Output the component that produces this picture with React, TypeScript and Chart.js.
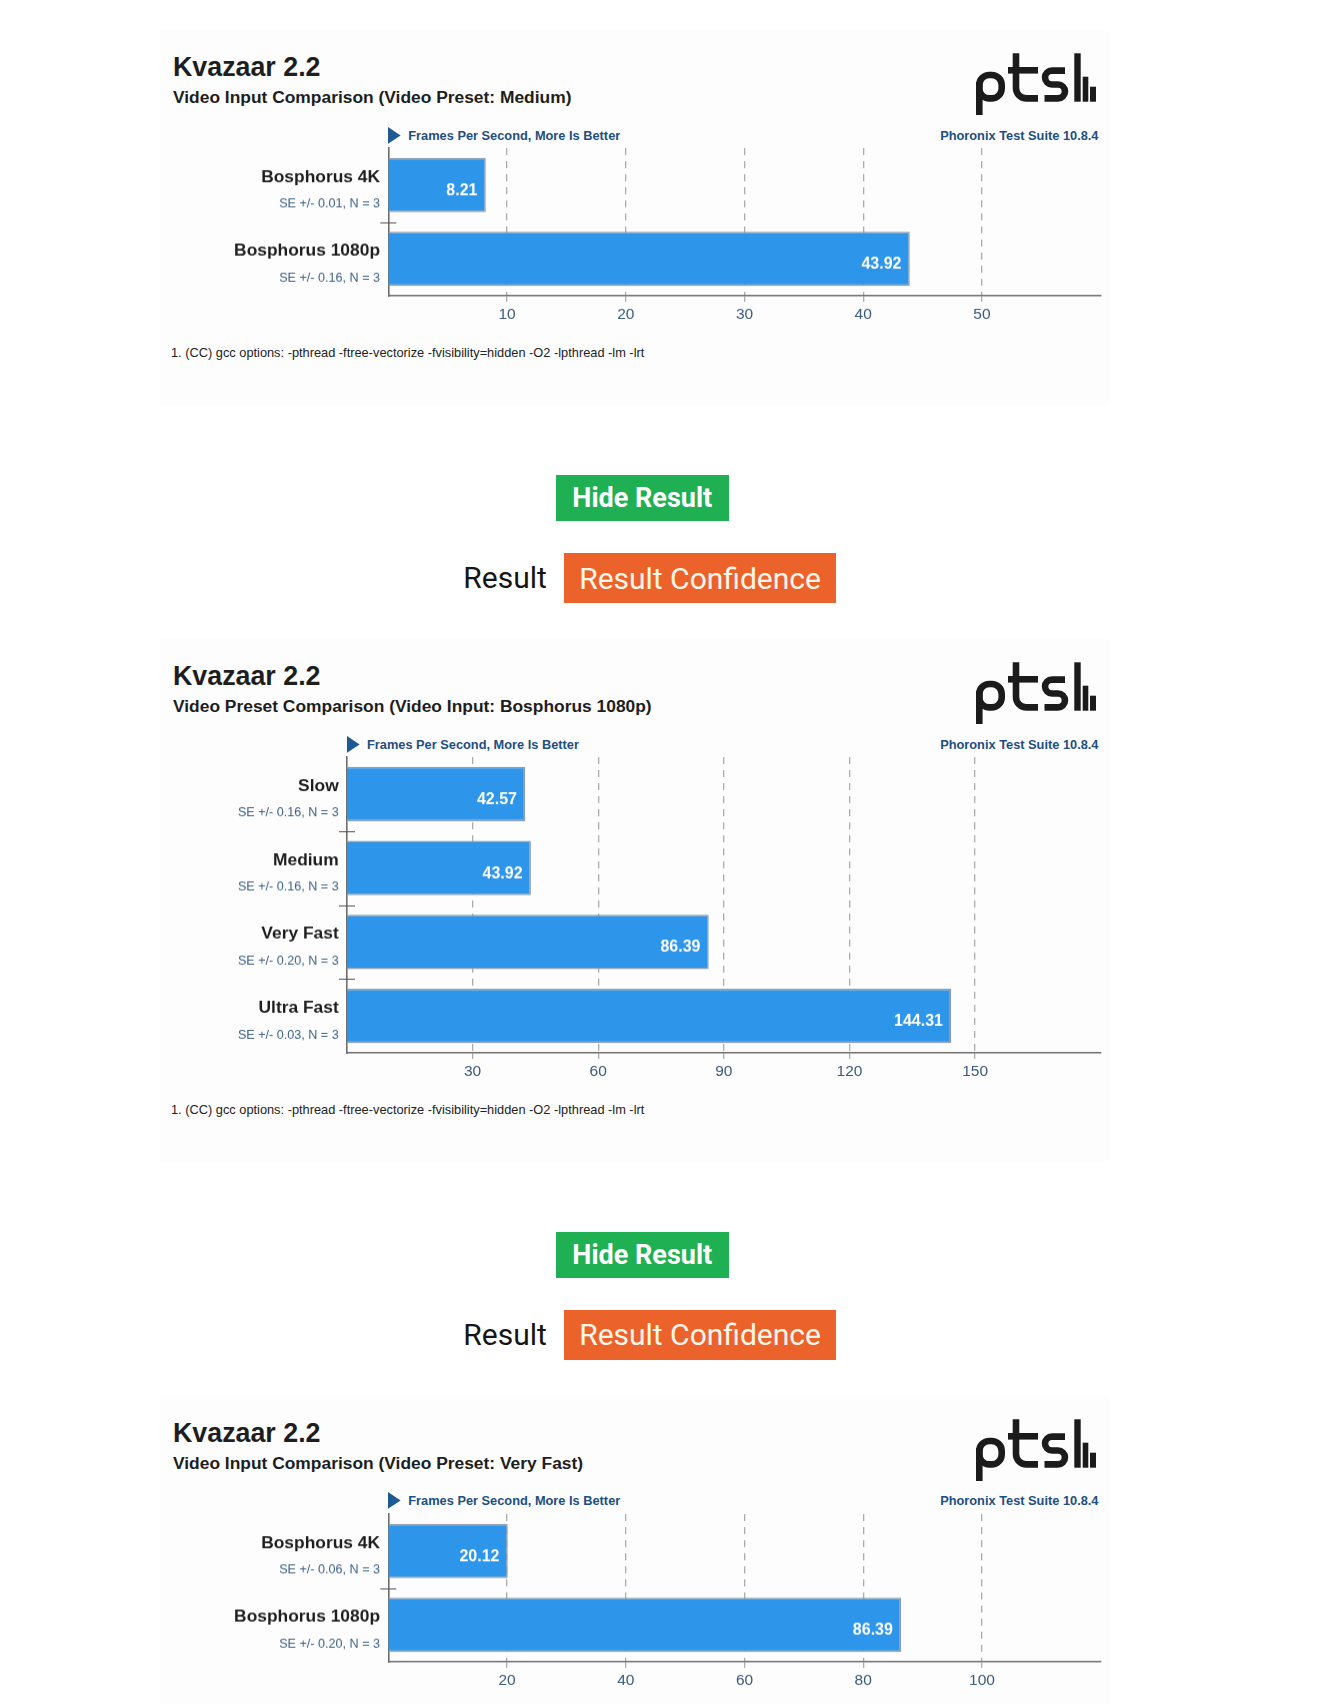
import React, { useEffect, useRef } from 'react';
import { Chart, registerables } from 'chart.js';

Chart.register(...registerables);

// ---------- data ----------
const chart1Title = 'Kvazaar 2.2';
const chart1Subtitle = 'Video Input Comparison (Video Preset: Medium)';
const chart1Categories = ['Bosphorus 4K', 'Bosphorus 1080p'];
const chart1Values = [8.21, 43.92];
const chart1SE = ['SE +/- 0.01, N = 3', 'SE +/- 0.16, N = 3'];
const chart1Max = 60;
const chart1Step = 10;

const chart2Title = 'Kvazaar 2.2';
const chart2Subtitle = 'Video Preset Comparison (Video Input: Bosphorus 1080p)';
const chart2Categories = ['Slow', 'Medium', 'Very Fast', 'Ultra Fast'];
const chart2Values = [42.57, 43.92, 86.39, 144.31];
const chart2SE = ['SE +/- 0.16, N = 3', 'SE +/- 0.16, N = 3', 'SE +/- 0.20, N = 3', 'SE +/- 0.03, N = 3'];
const chart2Max = 180;
const chart2Step = 30;

const chart3Title = 'Kvazaar 2.2';
const chart3Subtitle = 'Video Input Comparison (Video Preset: Very Fast)';
const chart3Categories = ['Bosphorus 4K', 'Bosphorus 1080p'];
const chart3Values = [20.12, 86.39];
const chart3SE = ['SE +/- 0.06, N = 3', 'SE +/- 0.20, N = 3'];
const chart3Max = 120;
const chart3Step = 20;

const unitLabel = 'Frames Per Second, More Is Better';
const suiteLabel = 'Phoronix Test Suite 10.8.4';
const footnote = '1. (CC) gcc options: -pthread -ftree-vectorize -fvisibility=hidden -O2 -lpthread -lm -lrt';

// ---------- layout constants ----------
const W = 1328;
const H = 1704;
const SANS = '"Liberation Sans", Arial, Helvetica, sans-serif';
const ROBOTO = 'Roboto, "Liberation Sans", Arial, sans-serif';
const CHART_TOP = 148;
const CAT = 73.9;
const AXIS_RIGHT = 1100.7;
const CANVAS_TOP = 140;
const X_AXIS_H = 40;

const TITLE_COLOR = '#1e1e1e';
const BLUE_TEXT = '#1d4f80';
const SE_COLOR = '#3d6088';
const TICK_COLOR = '#3a5a7c';
const BAR_COLOR = '#2d95ea';
const BAR_BORDER = '#8b9cae';
const AXIS_COLOR = '#6e6e6e';
const GRID_COLOR = '#acacac';

type TextProps = {
  x: number;
  baseline: number;
  size: number;
  weight?: number | string;
  color?: string;
  align?: 'left' | 'right';
  family?: string;
  children: React.ReactNode;
};

function Txt({ x, baseline, size, weight = 400, color = TITLE_COLOR, align = 'left', family = SANS, children }: TextProps) {
  const k = family === ROBOTO ? 0.8418 : 0.8465;
  const style: React.CSSProperties = {
    position: 'absolute',
    top: baseline - k * size,
    fontFamily: family,
    fontSize: size,
    fontWeight: weight as any,
    lineHeight: `${size}px`,
    color,
    whiteSpace: 'nowrap',
  };
  if (align === 'right') {
    style.right = W - x;
    style.textAlign = 'right';
  } else {
    style.left = x;
  }
  return <div style={style}>{children}</div>;
}

function Logo({ top }: { top: number }) {
  const c = '#1b1b1b';
  return (
    <svg
      width={150}
      height={85}
      viewBox="0 0 150 85"
      style={{ position: 'absolute', left: 960, top: top + 40 }}
    >
      <g fill="none" stroke={c} strokeWidth={6.6} strokeLinecap="butt">
        <rect x={19.3} y={35} width={22.4} height={23.4} rx={10} ry={10} />
        <line x1={19.3} y1={42} x2={19.3} y2={75} />
        <path d="M56,13.3 V48 A10.4,10.4 0 0 0 66.4,58.4 H78" />
        <line x1={48} y1={30.3} x2={78} y2={30.3} />
        <path d="M105,30.6 H92 A6.95,6.95 0 0 0 92,44.5 H98 A6.95,6.95 0 0 1 98,58.4 H84.5" />
      </g>
      <rect x={114.3} y={13.3} width={6.4} height={48.4} fill={c} />
      <rect x={122.7} y={36.7} width={5.6} height={25} fill={c} />
      <rect x={130} y={46.7} width={6} height={15} fill={c} />
    </svg>
  );
}

type ChartProps = {
  categories: string[];
  values: number[];
  se: string[];
  max: number;
  step: number;
  axisLeft: number;
};

function BarChart({ categories, values, se, max, step, axisLeft }: ChartProps) {
  const ref = useRef<HTMLCanvasElement>(null);
  const chartH = categories.length * CAT;
  const canvasH = CHART_TOP - CANVAS_TOP + chartH + X_AXIS_H;

  useEffect(() => {
    if (!ref.current) return;
    const labelPlugin = {
      id: 'ptsLabels',
      afterDatasetsDraw(chart: any) {
        const ctx = chart.ctx as CanvasRenderingContext2D;
        const meta = chart.getDatasetMeta(0);
        ctx.save();
        ctx.fillStyle = '#ffffff';
        ctx.font = `bold 16px ${SANS}`;
        ctx.textAlign = 'right';
        ctx.textBaseline = 'alphabetic';
        meta.data.forEach((bar: any, i: number) => {
          ctx.fillText(values[i].toFixed(2), bar.x - 8.3, bar.y + 10);
        });
        ctx.restore();
      },
      afterDraw(chart: any) {
        const ctx = chart.ctx as CanvasRenderingContext2D;
        const yScale = chart.scales.y;
        const left = chart.chartArea.left;
        ctx.save();
        ctx.textAlign = 'right';
        ctx.textBaseline = 'alphabetic';
        categories.forEach((cat, i) => {
          const y = yScale.getPixelForValue(i);
          ctx.fillStyle = TITLE_COLOR;
          ctx.font = `bold 17.4px ${SANS}`;
          ctx.fillText(cat, left - 8.3, y - 3);
          ctx.fillStyle = SE_COLOR;
          ctx.font = `12.6px ${SANS}`;
          ctx.fillText(se[i], left - 8.3, y + 22.5);
        });
        // category boundary marks crossing the vertical axis
        ctx.strokeStyle = '#505050';
        ctx.lineWidth = 1;
        for (let i = 0; i < categories.length - 1; i++) {
          const yb = Math.round((yScale.getPixelForValue(i) + yScale.getPixelForValue(i + 1)) / 2) + 0.5;
          ctx.beginPath();
          ctx.moveTo(left - 8, yb);
          ctx.lineTo(left + 8, yb);
          ctx.stroke();
        }
        ctx.restore();
      },
    };

    const chart = new Chart(ref.current, {
      type: 'bar',
      data: {
        labels: categories,
        datasets: [
          {
            data: values,
            backgroundColor: BAR_COLOR,
            borderColor: BAR_BORDER,
            borderWidth: 1.5,
            barPercentage: 0.735,
            categoryPercentage: 1,
          },
        ],
      },
      options: {
        indexAxis: 'y',
        animation: false,
        responsive: false,
        maintainAspectRatio: false,
        layout: {
          padding: { left: axisLeft, right: W - AXIS_RIGHT, top: CHART_TOP - CANVAS_TOP, bottom: 0 },
        },
        plugins: {
          legend: { display: false },
          tooltip: { enabled: false },
          title: { display: false },
        },
        scales: {
          x: {
            type: 'linear',
            min: 0,
            max,
            afterBuildTicks: (s: any) => {
              s.ticks = s.ticks.filter((t: any) => t.value > 0 && t.value < max);
            },
            afterFit: (s: any) => {
              s.height = X_AXIS_H;
            },
            ticks: {
              stepSize: step,
              color: TICK_COLOR,
              font: { family: SANS, size: 15.5 },
              padding: 3,
              maxRotation: 0,
            },
            grid: {
              color: GRID_COLOR,
              lineWidth: 1.3,
              tickLength: 6,
              tickColor: GRID_COLOR,
              tickWidth: 1.3,
            },
            border: { display: true, color: AXIS_COLOR, width: 1.6, dash: [7, 6] },
          },
          y: {
            type: 'category',
            ticks: { display: false },
            grid: { display: false },
            border: { display: true, color: AXIS_COLOR, width: 1.6 },
            afterFit: (s: any) => {
              s.width = 0;
            },
          },
        },
      },
      plugins: [labelPlugin],
    } as any);
    return () => chart.destroy();
  }, []);

  return (
    <canvas
      ref={ref}
      width={W}
      height={canvasH}
      style={{ position: 'absolute', left: 0, top: CANVAS_TOP, width: W, height: canvasH }}
    />
  );
}

type PanelProps = ChartProps & {
  top: number;
  title: string;
  subtitle: string;
};

function Panel({ top, title, subtitle, categories, values, se, max, step, axisLeft }: PanelProps) {
  const chartBottom = CHART_TOP + categories.length * CAT;
  return (
    <>
      <div
        style={{
          position: 'absolute',
          left: 160,
          top: top + 30,
          width: 950,
          height: chartBottom + 109 - 30,
          background: '#fdfdfd',
        }}
      />
      <div style={{ position: 'absolute', left: 0, top, width: W, height: chartBottom + 120 }}>
        <Txt x={173} baseline={76.7} size={26.8} weight={700}>{title}</Txt>
        <Txt x={173} baseline={104} size={17.4} weight={700}>{subtitle}</Txt>
        <svg width={14} height={18} style={{ position: 'absolute', left: axisLeft, top: 126.5 }}>
          <polygon points="0,0 12.6,8.4 0,16.8" fill="#1d5a94" />
        </svg>
        <Txt x={axisLeft + 20} baseline={140.5} size={12.8} weight={700} color={BLUE_TEXT}>{unitLabel}</Txt>
        <Txt x={1098.5} baseline={140.5} size={12.8} weight={700} color={BLUE_TEXT} align="right">{suiteLabel}</Txt>
        <BarChart categories={categories} values={values} se={se} max={max} step={step} axisLeft={axisLeft} />
        <Txt x={171} baseline={chartBottom + 62.3} size={12.8} color="#222">{footnote}</Txt>
      </div>
      <Logo top={top} />
    </>
  );
}

// top = absolute y of the chart's x-axis line above the buttons
function Buttons({ top }: { top: number }) {
  return (
    <>
      <div
        style={{
          position: 'absolute',
          left: 555.8,
          top: top + 179.5,
          width: 173,
          height: 45.7,
          background: '#20b054',
          color: '#ffffff',
          fontFamily: ROBOTO,
          fontWeight: 700,
          fontSize: 27,
          display: 'flex',
          alignItems: 'center',
          justifyContent: 'center',
          whiteSpace: 'nowrap',
        }}
      >
        Hide Result
      </div>
      <Txt x={463.3} baseline={top + 281.7 + 10.5} size={30} family={ROBOTO} color="#151515">Result</Txt>
      <div
        style={{
          position: 'absolute',
          left: 564.3,
          top: top + 257.5,
          width: 271.5,
          height: 49.5,
          background: '#eb632a',
          color: '#fff6ea',
          fontFamily: ROBOTO,
          fontWeight: 400,
          fontSize: 30,
          display: 'flex',
          alignItems: 'center',
          justifyContent: 'center',
          whiteSpace: 'nowrap',
        }}
      >
        Result Confidence
      </div>
    </>
  );
}

export default function App() {
  const top1 = 0;
  const bottom1 = CHART_TOP + chart1Categories.length * CAT;
  const top2 = top1 + bottom1 + 313.2;
  const bottom2 = CHART_TOP + chart2Categories.length * CAT;
  const top3 = top2 + bottom2 + 313.2;

  return (
    <div
      style={{
        position: 'absolute',
        left: 0,
        top: 0,
        width: W,
        height: H,
        overflow: 'hidden',
        background: '#ffffff',
      }}
    >
      <Panel
        top={top1}
        title={chart1Title}
        subtitle={chart1Subtitle}
        categories={chart1Categories}
        values={chart1Values}
        se={chart1SE}
        max={chart1Max}
        step={chart1Step}
        axisLeft={388.3}
      />
      <Buttons top={top1 + bottom1} />
      <Panel
        top={top2}
        title={chart2Title}
        subtitle={chart2Subtitle}
        categories={chart2Categories}
        values={chart2Values}
        se={chart2SE}
        max={chart2Max}
        step={chart2Step}
        axisLeft={347}
      />
      <Buttons top={top2 + bottom2} />
      <Panel
        top={top3}
        title={chart3Title}
        subtitle={chart3Subtitle}
        categories={chart3Categories}
        values={chart3Values}
        se={chart3SE}
        max={chart3Max}
        step={chart3Step}
        axisLeft={388.3}
      />
    </div>
  );
}
